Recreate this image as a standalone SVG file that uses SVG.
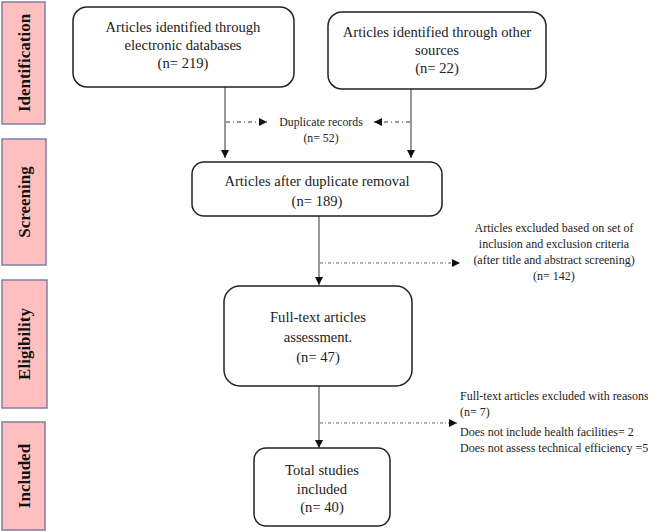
<svg xmlns="http://www.w3.org/2000/svg" width="648" height="532" viewBox="0 0 648 532">
<style>
.side{fill:#ffbfbf;stroke:#7f7fa6;stroke-width:1.5}
.sl{font-family:"Liberation Serif","DejaVu Serif",serif;font-weight:bold;font-size:17px;fill:#111}
.box{fill:#fff;stroke:#222;stroke-width:1.5}
.t{font-family:"Liberation Serif","DejaVu Serif",serif;font-size:14.6px;fill:#222;text-anchor:middle}
.s{font-family:"Liberation Serif","DejaVu Serif",serif;font-size:12px;fill:#222}
.sm{font-family:"Liberation Serif","DejaVu Serif",serif;font-size:11.8px;fill:#222}
.c{fill:none;stroke:#333;stroke-width:1}
.dd{fill:none;stroke:#333;stroke-width:1;stroke-dasharray:4 3 1 3}
.dt{fill:none;stroke:#666;stroke-width:1;stroke-dasharray:3 2 1 2}
</style>
<defs>
<marker id="ah" viewBox="0 0 10 10" refX="10" refY="5" markerWidth="8" markerHeight="8" markerUnits="userSpaceOnUse" orient="auto"><path d="M0,0L10,5L0,10z" fill="#111"/></marker>
</defs>
<g id="side-identification"><rect class="side" x="2" y="2" width="43" height="122"/><text class="sl" transform="translate(30,63) rotate(-90)" text-anchor="middle">Identification</text></g>
<g id="side-screening"><rect class="side" x="2" y="139" width="44" height="126"/><text class="sl" transform="translate(30,202) rotate(-90)" text-anchor="middle">Screening</text></g>
<g id="side-eligibility"><rect class="side" x="2" y="280" width="45" height="128"/><text class="sl" transform="translate(30,344) rotate(-90)" text-anchor="middle">Eligibility</text></g>
<g id="side-included"><rect class="side" x="2" y="422" width="43" height="108"/><text class="sl" transform="translate(30,476) rotate(-90)" text-anchor="middle">Included</text></g>
<g id="connectors">
<path class="c" d="M225,87V158" marker-end="url(#ah)"/>
<path class="c" d="M411,89V158" marker-end="url(#ah)"/>
<path class="dd" d="M226,122H267" marker-end="url(#ah)"/>
<path class="dd" d="M410,122H374" marker-end="url(#ah)"/>
<path class="c" d="M319,216V285" marker-end="url(#ah)"/>
<path class="dt" d="M320,263H460" marker-end="url(#ah)"/>
<path class="c" d="M319,386V448" marker-end="url(#ah)"/>
<path class="dt" d="M320,423H457" marker-end="url(#ah)"/>
</g>
<g id="n1"><rect class="box" x="73" y="7" width="221" height="80" rx="14"/><text class="t" x="183" y="32">Articles identified through</text><text class="t" x="183" y="50">electronic databases</text><text class="t" x="183" y="68">(n= 219)</text></g>
<g id="n2"><rect class="box" x="328" y="12" width="218" height="77" rx="14"/><text class="t" x="437" y="37">Articles identified through other</text><text class="t" x="437" y="55">sources</text><text class="t" x="437" y="73">(n= 22)</text></g>
<g id="dup"><text class="sm" x="321" y="126" text-anchor="middle">Duplicate records</text><text class="sm" x="321" y="142" text-anchor="middle">(n= 52)</text></g>
<g id="n3"><rect class="box" x="192" y="162" width="250" height="54" rx="12"/><text class="t" x="317" y="186">Articles after duplicate removal</text><text class="t" x="317" y="206">(n= 189)</text></g>
<g id="excl1"><text class="s" x="554" y="232" text-anchor="middle">Articles excluded based on set of</text><text class="s" x="554" y="248" text-anchor="middle">inclusion and exclusion criteria</text><text class="s" x="554" y="264" text-anchor="middle">(after title and abstract screening)</text><text class="s" x="554" y="280" text-anchor="middle">(n= 142)</text></g>
<g id="n4"><rect class="box" x="224" y="286" width="188" height="100" rx="16"/><text class="t" x="318" y="322">Full-text articles</text><text class="t" x="318" y="342">assessment.</text><text class="t" x="318" y="362">(n= 47)</text></g>
<g id="excl2"><text class="s" x="460" y="400">Full-text articles excluded with reasons</text><text class="s" x="460" y="416">(n= 7)</text><text class="s" x="460" y="436">Does not include health facilities= 2</text><text class="s" x="460" y="452">Does not assess technical efficiency =5</text></g>
<g id="n5"><rect class="box" x="254" y="448" width="136" height="78" rx="12"/><text class="t" x="322" y="475">Total studies</text><text class="t" x="322" y="494">included</text><text class="t" x="322" y="512">(n= 40)</text></g>
</svg>
